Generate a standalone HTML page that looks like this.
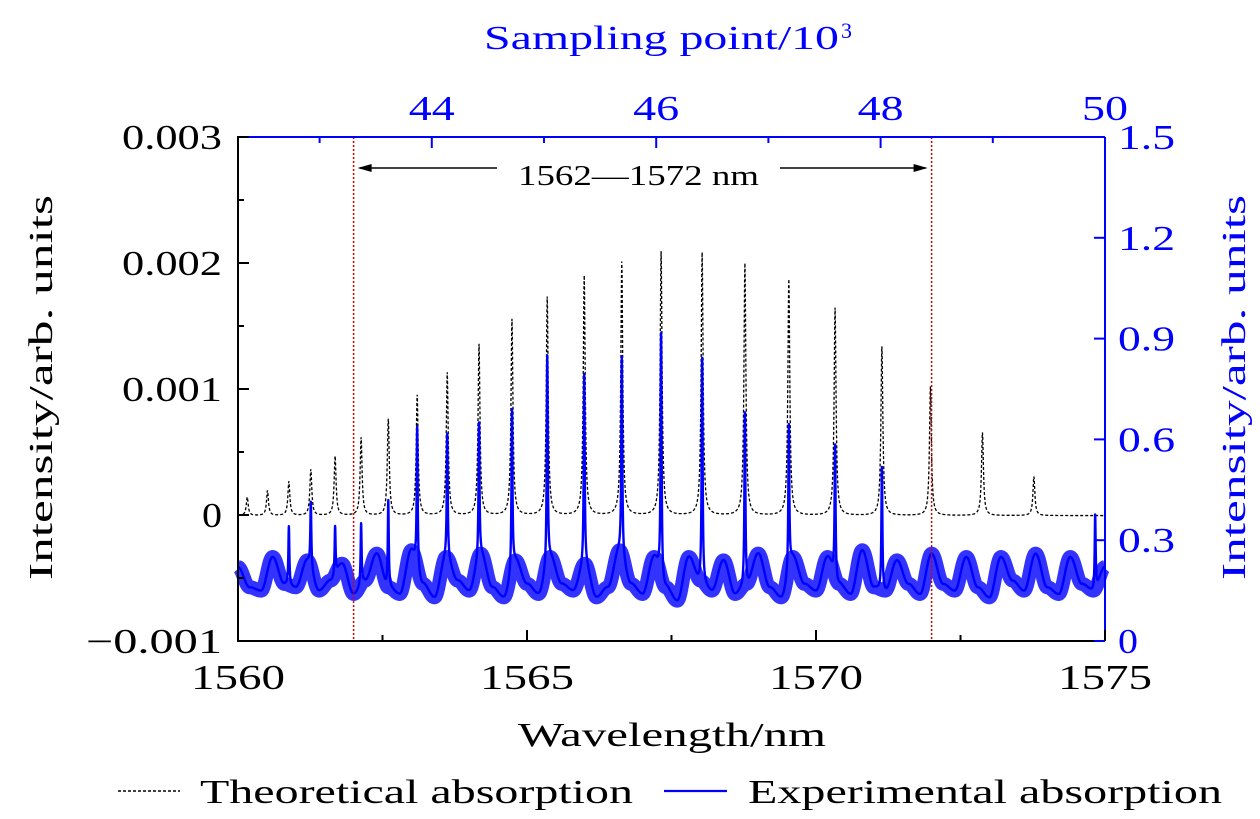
<!DOCTYPE html>
<html><head><meta charset="utf-8"><style>
body{margin:0;background:#fff;}
svg{display:block;font-family:"Liberation Serif",serif;}
</style></head><body>
<svg id="chart" width="1260" height="819" viewBox="0 0 1260 819" xmlns="http://www.w3.org/2000/svg">
<g id="marks"></g>
<g id="axes"></g>
</svg>
<script>
// ---- data ----
const peakWl = [1560.16,1560.51,1560.88,1561.26,1561.68,1562.13,1562.60,1563.10,1563.62,1564.17,1564.74,1565.35,1565.99,1566.64,1567.32,1568.03,1568.77,1569.53,1570.33,1571.14,1571.98,1572.88,1573.77];
const theoHeights = [0.146,0.198,0.27,0.365,0.47,0.618,0.765,0.955,1.133,1.359,1.557,1.734,1.901,2.012,2.094,2.086,2.0,1.873,1.648,1.341,1.024,0.659,0.31]; // x1e-3
const expWl = [1560.88,1561.26,1561.68,1562.13,1562.60,1563.10,1563.62,1564.17,1564.74,1565.35,1565.99,1566.64,1567.32,1568.03,1568.77,1569.53,1570.33,1571.14,1574.83];
const expTops = [0.375,0.393,0.345,0.381,0.459,0.618,0.568,0.596,0.673,0.816,0.764,0.787,0.925,0.864,0.712,0.628,0.593,0.566,0.423];
const expBaseline = [0.22,0.16,0.15,0.25,0.17,0.16,0.24,0.15,0.18,0.23,0.14,0.18,0.26,0.16,0.14,0.27,0.17,0.13,0.25,0.18,0.15,0.26,0.16,0.13,0.24,0.17,0.14,0.25,0.17,0.15,0.23,0.13,0.16,0.27,0.17,0.14,0.25,0.16,0.12,0.25,0.18,0.15,0.24,0.14,0.17,0.26,0.16,0.13,0.25,0.17,0.15,0.25,0.17,0.14,0.27,0.16,0.15,0.24,0.17,0.14,0.26,0.17,0.15,0.25,0.16,0.13,0.25,0.18,0.15,0.26,0.16,0.14,0.25,0.17,0.15,0.22];
const bottomTicks = [1560,1565,1570,1575];
const leftTicks = [0.003,0.002,0.001,0,-0.001];
const leftLabels = ["0.003","0.002","0.001","0","\u22120.001"];
const rightTicks = [1.5,1.2,0.9,0.6,0.3,0];
const rightLabels = ["1.5","1.2","0.9","0.6","0.3","0"];
const topTicks = [44,46,48,50];
const bounds = [1562,1572];

// ---- axes functions ----
const X0=238,X1=1105,Y0=137,Y1=641;
const x = w => X0+(w-1560)/15*(X1-X0);
const yL = v => Y1-(v+0.001)/0.004*(Y1-Y0);
const yR = v => Y1-v/1.5*(Y1-Y0);
const xT = s => X1-(50-s)*112.2;
const NS="http://www.w3.org/2000/svg";
const marks=document.getElementById('marks'), axes=document.getElementById('axes');
function mk(tag,attrs,parent){const e=document.createElementNS(NS,tag);for(const k in attrs)e.setAttribute(k,attrs[k]);parent.appendChild(e);return e;}
function txt(s,attrs,parent){const e=mk('text',attrs,parent);e.textContent=s;if(attrs.textLength)e.setAttribute('lengthAdjust','spacingAndGlyphs');return e;}
const baseAt = w => {const f=Math.max(0,(w-1560)/0.2);const j=Math.min(Math.floor(f),expBaseline.length-2);const t=f-j;
 const tt=(1-Math.cos(Math.PI*t))/2;return expBaseline[j]*(1-tt)+expBaseline[j+1]*tt;};

// theoretical curve
let d='';
for(let i=0;i<=3000;i++){const w=1560+i*0.005;let v=0;
 peakWl.forEach((p,k)=>{const g=0.02;v+=theoHeights[k]*g*g/((w-p)*(w-p)+g*g);});
 d+=(i?'L':'M')+x(w).toFixed(2)+' '+yL(v*0.001-0.000005).toFixed(2);}
const theo=mk('path',{d:d,fill:'none',stroke:'#000','stroke-width':1.3,'stroke-dasharray':'3 2'},marks);



// experimental noise band (from baseline array)
d='';
for(let i=0;i<=1500;i++){const w=1560+i*0.01;d+=(i?'L':'M')+x(w).toFixed(2)+' '+yR(baseAt(w)).toFixed(2);}
const band=mk('path',{d:d,fill:'none',stroke:'#0000ff','stroke-width':14,'stroke-linejoin':'round','stroke-opacity':0.8},marks);



// experimental curve
d='';
for(let i=0;i<=6000;i++){const w=1560+i*0.0025;let v=baseAt(w);
 expWl.forEach((p,k)=>{const g=0.01;v+=(expTops[k]-0.2)*g*g/((w-p)*(w-p)+g*g);});
 d+=(i?'L':'M')+x(w).toFixed(2)+' '+yR(v).toFixed(2);}
const exp=mk('path',{d:d,fill:'none',stroke:'#0000ff','stroke-width':2.4,'stroke-linejoin':'round'},marks);



// bounds lines
bounds.forEach(b=>{const l=mk('line',{x1:x(b),x2:x(b),y1:Y0,y2:Y1,stroke:'#d00000','stroke-width':1.5,'stroke-dasharray':'2 2'},marks);
 
 });

// range annotation
const ay=168;
const a1=mk('line',{x1:x(bounds[0])+6,x2:497,y1:ay,y2:ay,stroke:'#000','stroke-width':1.6},axes);

const a2=mk('line',{x1:780,x2:x(bounds[1])-6,y1:ay,y2:ay,stroke:'#000','stroke-width':1.6},axes);

mk('path',{d:`M${x(bounds[0])+4} ${ay} l14 -4 l0 8z`,fill:'#000'},axes);
mk('path',{d:`M${x(bounds[1])-4} ${ay} l-14 -4 l0 8z`,fill:'#000'},axes);
const rl=txt('1562\u20141572 nm',{x:518,y:ay+17,'font-size':28,textLength:241},axes);


// frame
mk('path',{d:`M${X1} ${Y0} L${X0} ${Y0} L${X0} ${Y1} L${X1} ${Y1}`,fill:'none',stroke:'#000','stroke-width':2},axes);
mk('line',{x1:X0,x2:X1,y1:Y0,y2:Y0,stroke:'#0000ff','stroke-width':2},axes);
mk('line',{x1:X1,x2:X1,y1:Y0,y2:Y1,stroke:'#0000ff','stroke-width':2},axes);

// bottom ticks
for(let w=1560;w<=1575;w+=2.5){const maj=bottomTicks.includes(w);mk('line',{x1:x(w),x2:x(w),y1:Y1,y2:Y1-(maj?11:6),stroke:'#000','stroke-width':2},axes);}
bottomTicks.forEach(w=>{const t=txt(String(w),{x:x(w)-47,y:Y1+48,'font-size':35,textLength:94},axes);
 });
// left ticks
for(let v=-0.001;v<=0.00301;v+=0.0005){const maj=Math.abs(Math.round(v*1000)-v*1000)<1e-6;mk('line',{x1:X0,x2:X0+(maj?11:6),y1:yL(v),y2:yL(v),stroke:'#000','stroke-width':2},axes);}
const lw=[100,100,100,20,136];
leftTicks.forEach((v,i)=>{const t=txt(leftLabels[i],{x:222-lw[i],y:yL(v)+12,'font-size':35,textLength:lw[i]},axes);
 });
// right ticks
rightTicks.forEach((v,i)=>{mk('line',{x1:X1,x2:X1-11,y1:yR(v),y2:yR(v),stroke:'#0000ff','stroke-width':2},axes);
 const t=txt(rightLabels[i],{x:1118,y:yR(v)+12,'font-size':35,fill:'#0000ff',textLength:rightLabels[i].length>1?57:20},axes);
 });
// top ticks
for(let s=43;s<=50;s++){const maj=topTicks.includes(s);mk('line',{x1:xT(s),x2:xT(s),y1:Y0,y2:Y0+(maj?11:6),stroke:'#0000ff','stroke-width':2},axes);}
topTicks.forEach(s=>{const t=txt(String(s),{x:xT(s)-23,y:120,'font-size':35,fill:'#0000ff',textLength:46},axes);
 });

// titles
let t;
t=txt('Wavelength/nm',{x:518,y:746,'font-size':34,textLength:308},axes);

t=txt('Sampling point/10',{x:484,y:49,'font-size':34,fill:'#0000ff',textLength:355},axes);

t=txt('3',{x:841,y:38,'font-size':22,fill:'#0000ff'},axes);

t=txt('Intensity/arb. units',{x:-580,y:52,'font-size':34,transform:'rotate(-90)',textLength:385},axes);

t=txt('Intensity/arb. units',{x:-580,y:1245,'font-size':34,fill:'#0000ff',transform:'rotate(-90)',textLength:385},axes);


// legend
const lg=mk('g',{},axes);

let e=mk('line',{x1:118,x2:180,y1:791,y2:791,stroke:'#000','stroke-width':1.6,'stroke-dasharray':'3 2'},lg);

e=txt('Theoretical absorption',{x:200,y:803,'font-size':34,textLength:433},lg);

e=mk('line',{x1:664,x2:727,y1:791,y2:791,stroke:'#0000ff','stroke-width':2.2},lg);

e=txt('Experimental absorption',{x:748,y:803,'font-size':34,textLength:474},lg);

</script>
</body></html>
